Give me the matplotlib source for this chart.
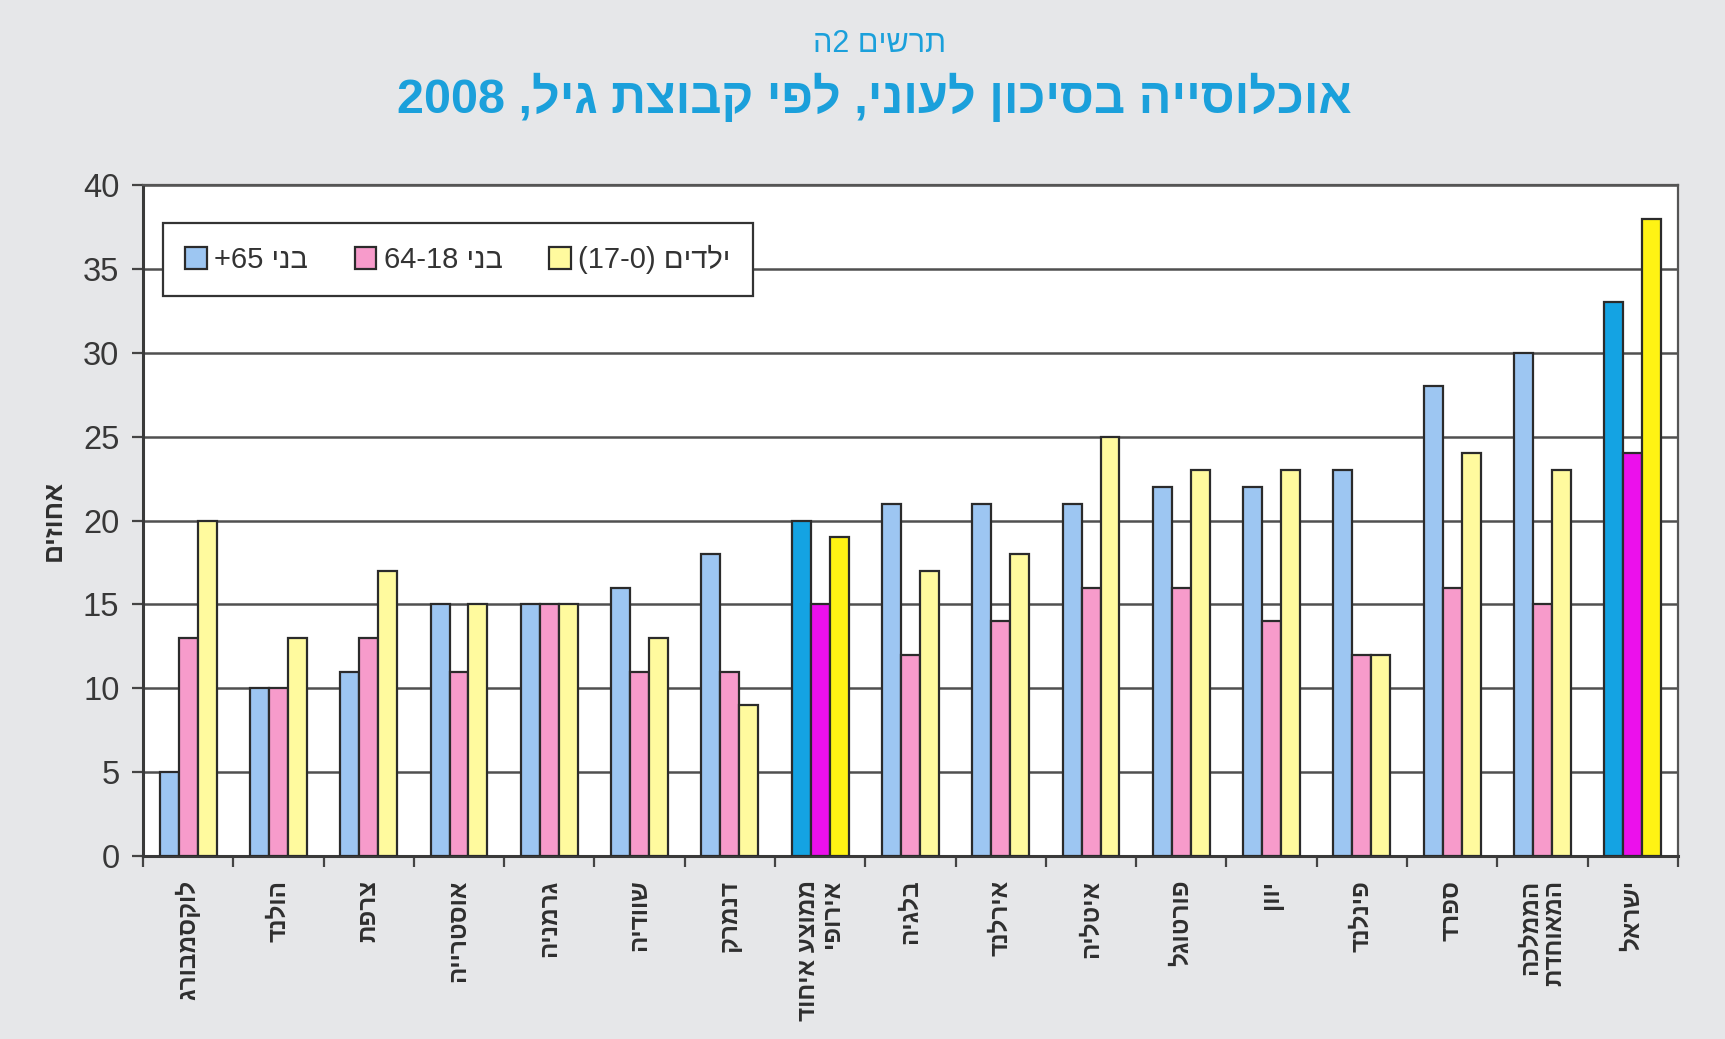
import re
import numpy as np
import matplotlib
matplotlib.use("Agg")
import matplotlib.pyplot as plt
from matplotlib.patches import Patch

plt.rcParams['font.family'] = ['Liberation Sans', 'DejaVu Sans']

# ---------------- data ----------------
countries = ["לוקסמבורג", "הולנד", "צרפת", "אוסטרייה", "גרמניה", "שוודיה", "דנמרק",
             "ממוצע איחוד\nאירופי", "בלגיה", "אירלנד", "איטליה", "פורטוגל", "יוון",
             "פינלנד", "ספרד", "הממלכה\nהמאוחדת", "ישראל"]
age_65_plus = [5, 10, 11, 15, 15, 16, 18, 20, 21, 21, 21, 22, 22, 23, 28, 30, 33]
age_18_64 = [13, 10, 13, 11, 15, 11, 11, 15, 12, 14, 16, 16, 14, 12, 16, 15, 24]
age_0_17 = [20, 13, 17, 15, 15, 13, 9, 19, 17, 18, 25, 23, 23, 12, 24, 23, 38]
series_names = ["בני 65+", "בני 18-64", "ילדים (0-17)"]
highlight = ["ממוצע איחוד\nאירופי", "ישראל"]
y_ticks = [0, 5, 10, 15, 20, 25, 30, 35, 40]
title = "אוכלוסייה בסיכון לעוני, לפי קבוצת גיל, 2008"
subtitle = "תרשים 2ה"
y_label = "אחוזים"


def vis(s):
    """Convert logical-order Hebrew text to visual (left-to-right) order."""
    out = []
    for line in s.split('\n'):
        r = line[::-1]
        r = r.translate(str.maketrans('()', ')('))
        r = re.sub(r'[0-9]+', lambda m: m.group(0)[::-1], r)
        out.append(r)
    return '\n'.join(out)


light = ["#9DC6F2", "#F79BCB", "#FFFA9E"]
strong = ["#14A3E3", "#EC10EC", "#FFF314"]
edge = "#2b2b2b"

bg = "#E6E7E9"
fig = plt.figure(figsize=(17.25, 10.39), dpi=100, facecolor=bg)
ax = fig.add_axes([0.0829, 0.176, 0.8898, 0.646])
ax.set_facecolor("white")

x = np.arange(len(countries))
w = 0.21
series = [age_65_plus, age_18_64, age_0_17]
for k, vals in enumerate(series):
    cols = [strong[k] if c in highlight else light[k] for c in countries]
    ax.bar(x + (k - 1) * w, vals, width=w, color=cols, edgecolor=edge,
           linewidth=1.6, zorder=3)

ax.set_ylim(0, 40)
ax.set_xlim(-0.5, len(countries) - 0.5)
ax.set_yticks(y_ticks)
ax.set_yticklabels([str(t) for t in y_ticks], fontsize=23.5, color="#383838")
ax.yaxis.grid(True, color="#505050", linewidth=1.8, zorder=1)
ax.set_axisbelow(True)

# x ticks at group boundaries, labels at centers
ax.set_xticks(np.arange(-0.5, len(countries), 1.0))
ax.set_xticklabels([])
ax.set_xticks(x, minor=True)
ax.set_xticklabels([vis(c) for c in countries], minor=True, rotation=90,
                   fontsize=17.5, fontweight="bold", color="#2e2e2e",
                   va="top", ha="center", multialignment="right",
                   linespacing=1.05)
ax.tick_params(axis="x", which="major", direction="out", length=8, width=1.6,
               color="#444444")
ax.tick_params(axis="x", which="minor", length=0, pad=17)
ax.tick_params(axis="y", direction="out", length=8, width=1.6, color="#444444", pad=9)

for s in ["left", "bottom"]:
    ax.spines[s].set_color("#3a3a3a")
    ax.spines[s].set_linewidth(2.2)
for s in ["top", "right"]:
    ax.spines[s].set_color("#555555")
    ax.spines[s].set_linewidth(1.6)

ax.set_ylabel(vis(y_label), fontsize=19, fontweight="bold", color="#2e2e2e",
              labelpad=12)

handles = [Patch(facecolor=light[k], edgecolor=edge, linewidth=1.6) for k in range(3)]
leg = ax.legend(handles, [vis(n) for n in series_names], ncol=3,
                loc="upper left", bbox_to_anchor=(0.013, 0.943), borderaxespad=0,
                fontsize=21, frameon=True, fancybox=False, framealpha=1,
                handlelength=0.75, handleheight=0.75, handletextpad=0.25,
                columnspacing=1.6, borderpad=0.75)
leg.get_frame().set_edgecolor("#333333")
leg.get_frame().set_linewidth(1.6)
for t in leg.get_texts():
    t.set_color("#333333")

fig.text(0.507, 0.905, vis(title), ha="center", va="center", fontsize=35,
         fontweight="bold", color="#1BA0DB")
fig.text(0.51, 0.958, vis(subtitle), ha="center", va="center", fontsize=22,
         color="#1BA0DB")

fig.savefig("out.png", dpi=100, facecolor=bg)
